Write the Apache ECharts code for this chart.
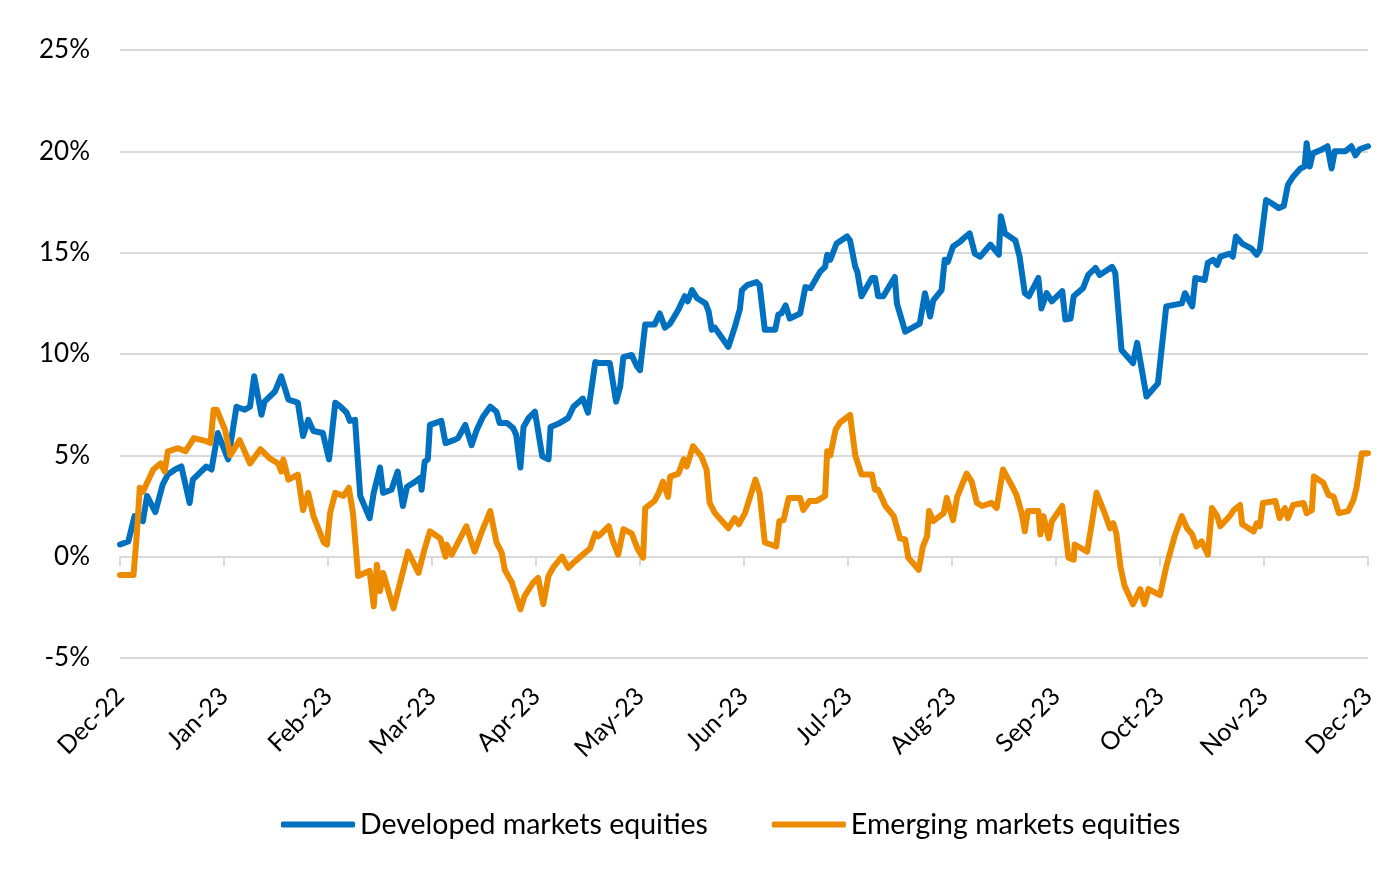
<!DOCTYPE html>
<html>
<head>
<meta charset="utf-8">
<script src="https://cdn.jsdelivr.net/npm/echarts@6/dist/echarts.min.js"></script>
<style>
html,body{margin:0;padding:0;background:#fff;}
#chart{width:1400px;height:871px;}
</style>
</head>
<body>
<div id="chart"></div>
<script>
// x = months elapsed since Dec-22, y = cumulative return (%)
const monthLabels = ['Dec-22','Jan-23','Feb-23','Mar-23','Apr-23','May-23','Jun-23','Jul-23','Aug-23','Sep-23','Oct-23','Nov-23','Dec-23'];
const yTicks = [-5, 0, 5, 10, 15, 20, 25];
const seriesNames = ['Developed markets equities', 'Emerging markets equities'];

const developed = [
[0,0.6],[0.08,0.75],[0.14,2.0],[0.22,1.75],[0.26,3.0],[0.34,2.2],[0.41,3.55],[0.46,4.05],[0.53,4.3],[0.59,4.45],
[0.67,2.65],[0.70,3.8],[0.83,4.45],[0.88,4.3],[0.94,6.1],[1.04,4.8],[1.12,7.4],[1.20,7.25],[1.25,7.4],[1.29,8.9],
[1.36,7.0],[1.39,7.65],[1.49,8.15],[1.55,8.9],[1.62,7.75],[1.71,7.6],[1.76,5.95],[1.81,6.75],[1.86,6.2],[1.95,6.1],
[2.01,4.8],[2.07,7.6],[2.12,7.4],[2.18,7.1],[2.21,6.7],[2.26,6.75],[2.31,3.0],[2.40,1.9],[2.44,3.15],[2.50,4.4],
[2.53,3.15],[2.61,3.3],[2.67,4.2],[2.72,2.5],[2.76,3.45],[2.84,3.7],[2.89,3.9],[2.90,3.3],[2.93,4.7],[2.96,4.8],
[2.98,6.5],[3.09,6.7],[3.13,5.6],[3.21,5.75],[3.25,5.85],[3.32,6.5],[3.38,5.5],[3.43,6.25],[3.49,6.9],[3.56,7.4],
[3.62,7.15],[3.65,6.6],[3.72,6.6],[3.78,6.35],[3.81,6.0],[3.85,4.4],[3.88,6.4],[3.93,6.85],[3.99,7.15],[4.06,4.95],
[4.12,4.8],[4.14,6.4],[4.23,6.6],[4.31,6.85],[4.36,7.4],[4.45,7.8],[4.50,7.1],[4.57,9.6],[4.62,9.55],[4.71,9.55],
[4.77,7.65],[4.81,8.4],[4.84,9.85],[4.92,9.95],[4.97,9.4],[5.00,9.2],[5.05,11.45],[5.14,11.45],[5.19,12.0],[5.24,11.3],
[5.29,11.5],[5.37,12.2],[5.43,12.85],[5.46,12.6],[5.50,13.15],[5.55,12.75],[5.63,12.5],[5.66,12.1],[5.69,11.2],[5.72,11.3],
[5.85,10.35],[5.91,11.3],[5.96,12.2],[5.98,13.15],[6.03,13.4],[6.12,13.55],[6.15,13.4],[6.20,11.2],[6.30,11.2],[6.33,11.95],
[6.36,12.0],[6.40,12.4],[6.44,11.75],[6.54,12.0],[6.59,13.3],[6.64,13.25],[6.73,14.05],[6.78,14.3],[6.80,14.9],[6.83,14.65],
[6.89,15.45],[6.99,15.8],[7.02,15.6],[7.07,14.3],[7.09,14.05],[7.13,12.85],[7.23,13.75],[7.26,13.75],[7.29,12.85],[7.34,12.85],
[7.45,13.8],[7.47,12.5],[7.55,11.1],[7.69,11.5],[7.74,13.0],[7.79,11.85],[7.82,12.65],[7.90,13.15],[7.93,14.65],[7.96,14.55],
[8.01,15.3],[8.08,15.55],[8.11,15.7],[8.17,15.95],[8.22,14.95],[8.27,14.8],[8.37,15.4],[8.45,14.9],[8.47,16.8],[8.51,15.95],
[8.61,15.6],[8.65,14.8],[8.70,13.0],[8.74,12.85],[8.83,13.75],[8.86,12.25],[8.91,13.0],[8.96,12.6],[9.06,13.1],[9.09,11.7],
[9.14,11.75],[9.17,12.85],[9.26,13.25],[9.31,13.9],[9.38,14.25],[9.42,13.9],[9.54,14.3],[9.57,14.0],[9.63,10.2],[9.74,9.55],
[9.78,10.55],[9.87,7.9],[9.98,8.55],[10.06,12.35],[10.21,12.5],[10.24,13.0],[10.31,12.35],[10.34,13.75],[10.43,13.65],[10.46,14.5],
[10.51,14.65],[10.55,14.4],[10.58,14.8],[10.67,14.95],[10.70,14.8],[10.73,15.8],[10.79,15.45],[10.88,15.2],[10.93,14.9],[10.96,15.15],
[11.02,17.6],[11.07,17.45],[11.14,17.2],[11.19,17.3],[11.23,18.35],[11.28,18.75],[11.35,19.15],[11.39,19.25],[11.41,20.4],[11.44,19.25],
[11.47,19.9],[11.54,20.05],[11.61,20.25],[11.65,19.15],[11.68,20.0],[11.78,20.0],[11.84,20.25],[11.88,19.8],[11.92,20.1],[12.00,20.25]
];

const emerging = [
[0,-0.9],[0.13,-0.9],[0.16,1.0],[0.19,3.4],[0.22,3.2],[0.32,4.3],[0.39,4.6],[0.43,4.2],[0.46,5.2],[0.56,5.35],
[0.63,5.2],[0.71,5.85],[0.83,5.7],[0.87,5.6],[0.90,7.25],[0.93,7.25],[1.01,6.25],[1.06,5.0],[1.15,5.75],[1.25,4.6],
[1.35,5.3],[1.44,4.85],[1.52,4.6],[1.55,4.2],[1.57,4.8],[1.62,3.8],[1.71,4.05],[1.76,2.3],[1.81,3.15],[1.86,2.0],
[1.96,0.7],[1.99,0.6],[2.02,2.15],[2.07,3.15],[2.15,3.0],[2.20,3.4],[2.24,2.15],[2.29,-0.95],[2.40,-0.7],[2.44,-2.45],
[2.47,-0.4],[2.50,-1.7],[2.53,-0.8],[2.63,-2.55],[2.77,0.25],[2.87,-0.8],[2.93,0.4],[2.98,1.25],[3.08,0.9],[3.13,0.0],
[3.14,0.6],[3.19,0.1],[3.33,1.5],[3.41,0.25],[3.48,1.25],[3.56,2.25],[3.62,0.7],[3.67,0.2],[3.70,-0.65],[3.77,-1.3],
[3.80,-1.8],[3.85,-2.6],[3.89,-1.95],[3.97,-1.3],[4.02,-1.05],[4.07,-2.35],[4.12,-0.95],[4.17,-0.5],[4.25,0.0],[4.31,-0.55],
[4.36,-0.3],[4.45,0.1],[4.52,0.4],[4.57,1.15],[4.60,1.0],[4.70,1.5],[4.74,0.75],[4.79,0.1],[4.84,1.35],[4.92,1.15],
[4.98,0.35],[5.03,-0.05],[5.05,2.4],[5.14,2.75],[5.18,3.15],[5.22,3.7],[5.27,2.95],[5.29,3.95],[5.37,4.1],[5.42,4.8],
[5.45,4.45],[5.51,5.45],[5.59,4.95],[5.64,4.3],[5.67,2.65],[5.72,2.15],[5.85,1.4],[5.91,1.9],[5.95,1.6],[6.01,2.15],
[6.11,3.8],[6.15,3.15],[6.20,0.7],[6.31,0.5],[6.34,1.75],[6.38,1.8],[6.43,2.9],[6.54,2.9],[6.57,2.3],[6.63,2.75],
[6.70,2.75],[6.78,3.0],[6.80,5.2],[6.83,5.0],[6.88,6.25],[6.92,6.6],[7.02,7.0],[7.07,5.0],[7.13,4.05],[7.23,4.05],
[7.26,3.3],[7.29,3.3],[7.36,2.5],[7.44,2.0],[7.50,0.9],[7.55,0.85],[7.58,-0.05],[7.68,-0.65],[7.72,0.5],[7.76,1.0],
[7.78,2.25],[7.82,1.75],[7.92,2.15],[7.95,2.9],[8.01,1.8],[8.05,2.95],[8.14,4.1],[8.19,3.7],[8.24,2.65],[8.29,2.5],
[8.38,2.65],[8.43,2.4],[8.49,4.3],[8.56,3.65],[8.62,3.05],[8.67,2.15],[8.70,1.25],[8.73,2.25],[8.83,2.25],[8.85,1.1],
[8.88,2.0],[8.93,0.9],[8.96,1.75],[9.06,2.5],[9.12,-0.05],[9.17,-0.15],[9.18,0.6],[9.30,0.25],[9.34,1.5],[9.39,3.15],
[9.46,2.25],[9.52,1.4],[9.55,1.65],[9.58,1.15],[9.62,-0.5],[9.66,-1.45],[9.74,-2.35],[9.81,-1.6],[9.85,-2.35],[9.89,-1.6],
[10.00,-1.9],[10.06,-0.5],[10.14,1.0],[10.21,2.0],[10.26,1.4],[10.31,1.1],[10.35,0.5],[10.40,0.75],[10.46,0.1],[10.50,2.4],
[10.55,2.0],[10.58,1.5],[10.67,2.0],[10.71,2.3],[10.77,2.55],[10.79,1.6],[10.90,1.25],[10.93,1.65],[10.96,1.5],[10.99,2.65],
[11.11,2.75],[11.15,1.9],[11.20,2.4],[11.23,1.9],[11.28,2.55],[11.38,2.65],[11.41,2.15],[11.46,2.3],[11.48,3.95],[11.57,3.65],
[11.62,3.05],[11.67,2.95],[11.72,2.15],[11.81,2.25],[11.86,2.8],[11.89,3.4],[11.94,5.1],[12.00,5.1]
];

const chart = echarts.init(document.getElementById('chart'), null, {renderer: 'canvas'});
const font = 'Lato, "Open Sans", sans-serif';
const gridColor = '#d9d9d9';

chart.setOption({
  animation: false,
  backgroundColor: '#ffffff',
  color: ['#0070c0', '#ed8b00'],
  grid: {left: 120, right: 32, top: 50, bottom: 213, containLabel: false},
  legend: {
    data: seriesNames,
    left: 276,
    top: 805,
    icon: 'roundRect',
    itemWidth: 74,
    itemHeight: 6,
    itemGap: 64,
    textStyle: {fontFamily: font, fontSize: 28.5, color: '#000'}
  },
  xAxis: [
    {
      type: 'value', min: 0, max: monthLabels.length - 1, interval: 1,
      position: 'bottom',
      axisLine: {show: false, onZero: false},
      axisTick: {show: false},
      splitLine: {show: false},
      axisLabel: {
        rotate: 45, margin: 34, fontFamily: font, fontSize: 25, color: '#000',
        formatter: v => monthLabels[Math.round(v)] || ''
      }
    },
    {
      type: 'value', min: 0, max: monthLabels.length - 1, interval: 1,
      position: 'bottom',
      axisLine: {show: true, onZero: true, lineStyle: {color: gridColor, width: 2}},
      axisTick: {show: true, length: 9, lineStyle: {color: gridColor, width: 2}},
      axisLabel: {show: false},
      splitLine: {show: false}
    }
  ],
  yAxis: {
    type: 'value', min: yTicks[0], max: yTicks[yTicks.length - 1], interval: 5,
    axisLine: {show: false},
    axisTick: {show: false},
    splitLine: {lineStyle: {color: gridColor, width: 2}},
    axisLabel: {margin: 30, fontFamily: font, fontSize: 26, color: '#000', formatter: '{value}%'}
  },
  series: [
    {name: seriesNames[0], type: 'line', data: developed, showSymbol: false, xAxisIndex: 0,
     lineStyle: {width: 6, cap: 'round', join: 'round'}},
    {name: seriesNames[1], type: 'line', data: emerging, showSymbol: false, xAxisIndex: 0,
     lineStyle: {width: 6, cap: 'round', join: 'round'}}
  ]
});
</script>
</body>
</html>
